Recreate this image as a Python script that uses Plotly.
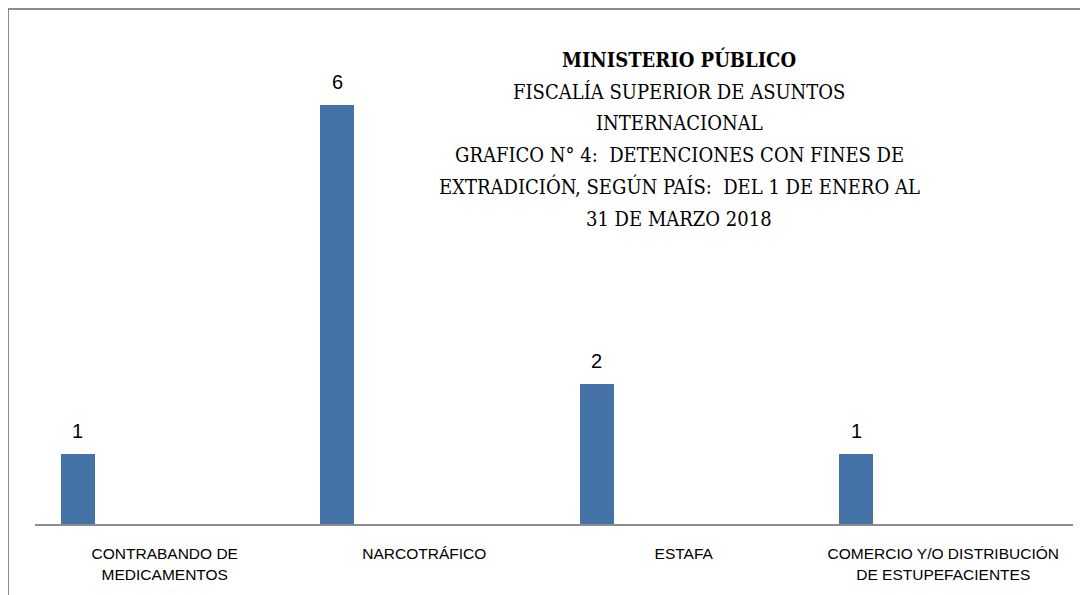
import plotly.graph_objects as go

categories = ["CONTRABANDO DE MEDICAMENTOS", "NARCOTRÁFICO", "ESTAFA",
              "COMERCIO Y/O DISTRIBUCIÓN DE ESTUPEFACIENTES"]
tick_labels = ["CONTRABANDO DE<br>MEDICAMENTOS", "NARCOTRÁFICO", "ESTAFA",
               "COMERCIO Y/O DISTRIBUCIÓN<br>DE ESTUPEFACIENTES"]
values = [1, 6, 2, 1]
title_lines = [
    "<b>MINISTERIO PÚBLICO</b>",
    "FISCALÍA SUPERIOR DE ASUNTOS",
    "INTERNACIONAL",
    "GRAFICO N° 4:  DETENCIONES CON FINES DE",
    "EXTRADICIÓN, SEGÚN PAÍS:  DEL 1 DE ENERO AL",
    "31 DE MARZO 2018",
]

# page has an 8px body margin; figure origin sits at (8, 8)
OFF = 8
W, H = 1080, 587
ml = 35 - OFF
mr = W - (1073 - OFF)
mb = H - (524.5 - OFF)
mt = 42
plot_w = W - ml - mr
plot_h = H - mt - mb
px_per_unit = 69.9
bar_width = 0.131
bar_offset = -0.40
slot_px = plot_w / len(categories)

fig = go.Figure()
fig.add_trace(go.Bar(
    x=categories, y=values,
    width=bar_width, offset=bar_offset,
    marker=dict(color="#4572A7", line=dict(width=0)),
    cliponaxis=False, hoverinfo="x+y",
))

def px_to_paper_x(px):
    return (px - OFF - ml) / plot_w

def px_to_paper_y(py):
    return (H - mb - (py - OFF)) / plot_h

annotations = []
for c, v in zip(categories, values):
    annotations.append(dict(
        x=c, y=v, xref="x", yref="y", text=str(v), showarrow=False,
        xanchor="center", yanchor="bottom",
        xshift=(bar_offset + bar_width / 2) * slot_px, yshift=10,
        font=dict(family="Liberation Sans", size=20, color="#000000"),
    ))

line_y = [59, 91, 122, 154, 186, 218]
for i, t in enumerate(title_lines):
    annotations.append(dict(
        text=t, xref="paper", yref="paper",
        x=px_to_paper_x(679), y=px_to_paper_y(line_y[i] + 1),
        xanchor="center", yanchor="middle", showarrow=False,
        font=dict(family="DejaVu Serif Condensed, Liberation Serif", size=20, color="#000000"),
    ))

fig.update_layout(
    width=W, height=H,
    margin=dict(l=ml, r=mr, t=mt, b=mb, pad=0),
    paper_bgcolor="white", plot_bgcolor="white",
    showlegend=False,
    annotations=annotations,
    bargap=0,
    xaxis=dict(
        type="category", range=[-0.5, 3.5],
        tickvals=categories, ticktext=tick_labels,
        showline=True, linecolor="#8C8C8C", linewidth=1.5,
        showgrid=False, ticks="", zeroline=False,
        ticklabelstandoff=15,
        tickfont=dict(family="Liberation Sans", size=15.5, color="#000000"),
    ),
    yaxis=dict(
        range=[0, plot_h / px_per_unit], visible=False, showgrid=False,
    ),
    shapes=[dict(
        type="rect", xref="paper", yref="paper",
        x0=px_to_paper_x(8), x1=px_to_paper_x(1087.5),
        y0=px_to_paper_y(620), y1=px_to_paper_y(9),
        line=dict(color="#8A8A8A", width=2), fillcolor="rgba(0,0,0,0)",
        layer="below",
    )],
)

fig.write_html("out.html")
